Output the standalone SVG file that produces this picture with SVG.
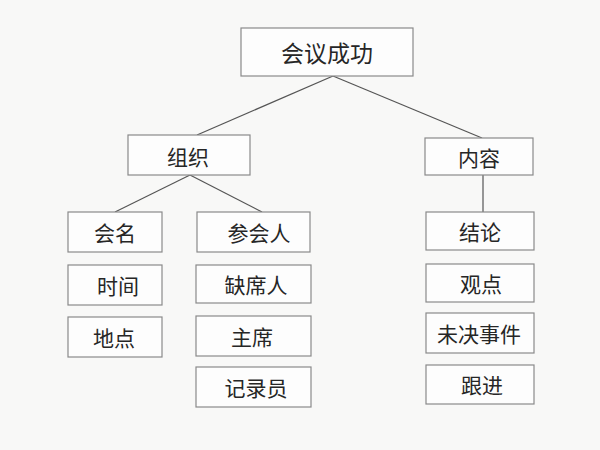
<svg xmlns="http://www.w3.org/2000/svg" width="600" height="450" viewBox="0 0 600 450">
<style>
.box{fill:#fdfdfd;stroke:#8a8a8a;stroke-width:1.2}
.lbl{font-family:"Noto Sans CJK SC","Noto Sans",sans-serif;font-size:21px;fill:#262626;text-anchor:middle;dominant-baseline:central}
.conn{stroke:#555;stroke-width:1.2;fill:none}
</style>
<rect width="600" height="450" fill="#f8f8f7"/>
<g id="connectors">
<line class="conn" x1="333" y1="76" x2="197" y2="135"/>
<line class="conn" x1="333" y1="76" x2="482" y2="138"/>
<line class="conn" x1="190" y1="175" x2="115" y2="212"/>
<line class="conn" x1="190" y1="175" x2="262" y2="212"/>
<line class="conn" x1="483" y1="175" x2="483" y2="212"/>
</g>
<g id="n-huiyichenggong"><rect class="box" x="241" y="28" width="172" height="48"/><text class="lbl" x="327" y="52" style="font-size:23px">会议成功</text></g>
<g id="n-zuzhi"><rect class="box" x="128" y="135" width="122" height="40"/><text class="lbl" x="188" y="156">组织</text></g>
<g id="n-neirong"><rect class="box" x="425" y="138" width="108" height="37"/><text class="lbl" x="479" y="157">内容</text></g>
<g id="n-huiming"><rect class="box" x="68" y="212" width="94" height="40"/><text class="lbl" x="115" y="232">会名</text></g>
<g id="n-shijian"><rect class="box" x="68" y="265" width="94" height="40"/><text class="lbl" x="118" y="285">时间</text></g>
<g id="n-didian"><rect class="box" x="68" y="317" width="94" height="40"/><text class="lbl" x="114" y="337">地点</text></g>
<g id="n-canhuiren"><rect class="box" x="197" y="212" width="113" height="40"/><text class="lbl" x="259" y="232">参会人</text></g>
<g id="n-quexiren"><rect class="box" x="196" y="265" width="115" height="38"/><text class="lbl" x="256" y="284">缺席人</text></g>
<g id="n-zhuxi"><rect class="box" x="196" y="316" width="115" height="40"/><text class="lbl" x="252" y="336">主席</text></g>
<g id="n-jiluyuan"><rect class="box" x="196" y="367" width="115" height="40"/><text class="lbl" x="256" y="387">记录员</text></g>
<g id="n-jielun"><rect class="box" x="426" y="212" width="108" height="38"/><text class="lbl" x="480" y="231">结论</text></g>
<g id="n-guandian"><rect class="box" x="426" y="264" width="108" height="38"/><text class="lbl" x="481" y="283">观点</text></g>
<g id="n-weijueshijian"><rect class="box" x="426" y="313" width="108" height="40"/><text class="lbl" x="479" y="333">未决事件</text></g>
<g id="n-genjin"><rect class="box" x="426" y="365" width="108" height="39"/><text class="lbl" x="482" y="384">跟进</text></g>
</svg>
